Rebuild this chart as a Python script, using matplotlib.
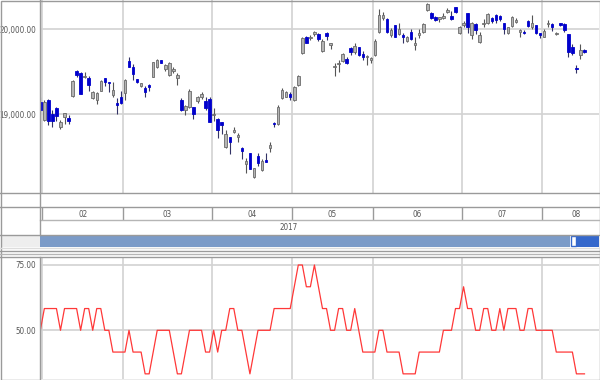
import matplotlib.pyplot as plt
from matplotlib import font_manager
from matplotlib.patches import Rectangle

# daily OHLC, 2017-01-31 .. mid Aug
opens = [19149, 18933, 19168, 19004, 19078, 18847, 18965, 18953, 19215, 19514,
         19482, 19435, 19431, 19188, 19168, 19278, 19423, 19384, 19231, 19137,
         19208, 19247, 19627, 19561, 19416, 19333, 19314, 19345, 19443, 19561,
         19639, 19533, 19463, 19514, 19423, 19168, 19051, 19082, 19082, 19161,
         19208, 19157, 19176, 18988, 18941, 18913, 18619, 18737, 18792, 18729,
         18608, 18415, 18549, 18266, 18510, 18345, 18462, 18608, 18902, 18886,
         19188, 19208, 19239, 19168, 19345, 19717, 19914, 19894, 19941, 19941,
         19749, 19953, 19816, 19553, 19592, 19631, 19647, 19776, 19737, 19796,
         19706, 19670, 19639, 19698, 19972, 20129, 20118, 19933, 20051, 19945,
         19933, 19867, 19972, 19816, 19933, 19965, 20227, 20188, 20149, 20118,
         20129, 20208, 20157, 20259, 19953, 20047, 20188, 19933, 20059, 19855,
         20063, 20071, 20129, 20169, 20157, 20078, 19961, 20039, 20090, 19972,
         19972, 20102, 20023, 20051, 19953, 19914, 20059, 20063, 19945, 20071,
         20063, 19941, 19796, 19549, 19698, 19757]
highs = [19200, 19168, 19176, 19051, 19082, 18933, 19019, 18992, 19404, 19521,
         19502, 19502, 19451, 19278, 19266, 19404, 19423, 19384, 19384, 19188,
         19278, 19412, 19670, 19592, 19416, 19372, 19333, 19353, 19619, 19647,
         19639, 19592, 19619, 19561, 19482, 19188, 19110, 19294, 19090, 19215,
         19266, 19208, 19208, 19078, 18953, 18913, 18815, 18737, 18855, 18784,
         18619, 18482, 18549, 18372, 18541, 18470, 18541, 18678, 18913, 19110,
         19306, 19278, 19267, 19333, 19467, 19914, 19921, 19933, 19984, 19953,
         19882, 19972, 19843, 19600, 19639, 19725, 19670, 19796, 19843, 19796,
         19749, 19698, 19678, 19882, 20235, 20208, 20129, 20012, 20051, 20078,
         19961, 19921, 20000, 19914, 20000, 20078, 20314, 20208, 20157, 20149,
         20188, 20247, 20220, 20267, 20039, 20102, 20196, 20090, 20071, 19972,
         20118, 20196, 20141, 20180, 20165, 20078, 20031, 20157, 20129, 20000,
         19992, 20110, 20169, 20051, 19953, 20000, 20110, 20071, 19972, 20078,
         20071, 19941, 19823, 19580, 19823, 19765]
lows = [19031, 18925, 18874, 18847, 18925, 18823, 18886, 18886, 19200, 19435,
        19239, 19423, 19278, 19176, 19121, 19278, 19333, 19266, 19208, 19004,
        19121, 19168, 19561, 19404, 19372, 19317, 19208, 19278, 19435, 19541,
        19600, 19510, 19455, 19490, 19345, 19043, 18992, 19070, 18941, 19129,
        19180, 19051, 18913, 18925, 18717, 18768, 18608, 18533, 18776, 18678,
        18470, 18313, 18353, 18247, 18392, 18337, 18435, 18560, 18855, 18874,
        19176, 19200, 19168, 19161, 19333, 19710, 19835, 19874, 19921, 19867,
        19737, 19874, 19765, 19451, 19502, 19619, 19592, 19698, 19710, 19686,
        19639, 19580, 19600, 19686, 19961, 20110, 19953, 19914, 19906, 19933,
        19843, 19855, 19874, 19757, 19894, 19953, 20220, 20118, 20102, 20090,
        20118, 20188, 20110, 20196, 19945, 20031, 19953, 19882, 19945, 19843,
        20023, 20063, 20078, 20071, 20102, 19945, 19945, 20031, 20071, 19906,
        19945, 20031, 20000, 19945, 19894, 19906, 20031, 19984, 19933, 20039,
        19972, 19670, 19698, 19490, 19651, 19725]
closes = [19051, 19149, 18925, 18925, 18980, 18913, 19012, 18921, 19392, 19463,
          19239, 19451, 19345, 19263, 19247, 19392, 19384, 19372, 19286, 19114,
          19129, 19404, 19561, 19474, 19384, 19365, 19263, 19325, 19612, 19639,
          19608, 19580, 19608, 19533, 19463, 19051, 19098, 19278, 19004, 19208,
          19235, 19070, 18913, 19004, 18815, 18874, 18764, 18678, 18815, 18757,
          18568, 18451, 18353, 18364, 18431, 18451, 18443, 18639, 18886, 19090,
          19286, 19267, 19200, 19317, 19451, 19894, 19843, 19914, 19965, 19882,
          19867, 19921, 19835, 19568, 19608, 19710, 19608, 19737, 19804, 19698,
          19678, 19686, 19659, 19867, 20169, 20169, 19972, 19992, 19914, 20000,
          19914, 19906, 19882, 19835, 19953, 20063, 20298, 20137, 20110, 20141,
          20157, 20227, 20118, 20208, 20031, 20071, 20031, 20078, 19992, 19933,
          20078, 20180, 20102, 20110, 20118, 20000, 20023, 20141, 20110, 19992,
          19953, 20039, 20071, 19961, 19929, 19984, 20078, 20023, 19961, 20051,
          19992, 19737, 19725, 19533, 19757, 19733]

# 12-day psychological line (%)
psy = [50, 58.33, 58.33, 58.33, 58.33, 50, 58.33, 58.33, 58.33, 58.33,
       50, 58.33, 58.33, 50, 58.33, 58.33, 50, 50, 41.67, 41.67,
       41.67, 41.67, 50, 41.67, 41.67, 41.67, 33.33, 33.33, 41.67, 50,
       50, 50, 50, 41.67, 33.33, 33.33, 41.67, 50, 50, 50,
       50, 41.67, 41.67, 50, 41.67, 50, 50, 58.33, 58.33, 50,
       50, 41.67, 33.33, 41.67, 50, 50, 50, 50, 58.33, 58.33,
       58.33, 58.33, 58.33, 66.67, 75, 75, 66.67, 66.67, 75, 66.67,
       58.33, 58.33, 50, 50, 58.33, 58.33, 50, 50, 58.33, 50,
       41.67, 41.67, 41.67, 41.67, 50, 50, 41.67, 41.67, 41.67, 41.67,
       33.33, 33.33, 33.33, 33.33, 41.67, 41.67, 41.67, 41.67, 41.67, 41.67,
       50, 50, 50, 58.33, 58.33, 66.67, 58.33, 58.33, 50, 50,
       58.33, 58.33, 50, 50, 58.33, 50, 58.33, 58.33, 58.33, 50,
       50, 58.33, 58.33, 50, 50, 50, 50, 50, 41.67, 41.67,
       41.67, 41.67, 41.67, 33.33, 33.33, 33.33]

month_labels = ['02', '03', '04', '05', '06', '07', '08']
month_start = [1, 21, 43, 63, 83, 105, 125]
year_label = '2017'

W, H = 600, 380
LINE = '#9a9a9a'
GRID = '#d2d2d2'
TXT = '#555555'

# narrow face for the axis text if one is around
fonts = font_manager.fontManager.ttflist
if any(f.name == 'Liberation Sans Narrow' for f in fonts):
    FONT = dict(family='Liberation Sans Narrow', fontsize=6.5)
elif any(f.name == 'DejaVu Sans' and f.stretch == 'condensed' for f in fonts):
    FONT = dict(family='DejaVu Sans', fontstretch='condensed', fontsize=5.8)
else:
    FONT = dict(family='DejaVu Sans', fontsize=5.0)


def px_rect(x0, y0, x1, y1):
    return [x0 / W, 1 - y1 / H, (x1 - x0) / W, (y1 - y0) / H]


fig = plt.figure(figsize=(6, 3.8), dpi=100)
fig.patch.set_facecolor('white')

n = len(closes)
xs = list(range(n))
xlim = (-0.08, 138.6)
bounds = [m - 0.5 for m in month_start]

# --- price panel
ax = fig.add_axes(px_rect(40, 0, 599, 193))
ax.set_xlim(*xlim)
ax.set_ylim(18074, 20345)
for b in bounds:
    ax.axvline(b, color=GRID, lw=1.2, zorder=0)
for v in (19000, 20000):
    ax.axhline(v, color=GRID, lw=1.2, zorder=0)

up = [c >= o for o, c in zip(opens, closes)]
wick_col = ['#555555' if u else '#333366' for u in up]
ax.vlines(xs, lows, highs, colors=wick_col, lw=0.8, zorder=2)
bottoms = [min(o, c) for o, c in zip(opens, closes)]
heights = [max(abs(c - o), 6) for o, c in zip(opens, closes)]
ax.bar(xs, heights, bottom=bottoms, width=0.62,
       color=['#b4b4b4' if u else '#0000cc' for u in up],
       edgecolor=['#6a6a6a' if u else '#0000cc' for u in up],
       linewidth=0.6, zorder=3)

ax.set_yticks([19000, 20000])
ax.set_yticklabels(['{:,.2f}'.format(v) for v in (19000, 20000)], color=TXT, **FONT)
ax.tick_params(axis='y', length=0, pad=3)
ax.set_xticks([])
for s in ax.spines.values():
    s.set_visible(False)

# --- month strip
axm = fig.add_axes(px_rect(40, 207, 599, 220))
axm.set_xlim(*xlim)
axm.set_ylim(0, 1)
axm.axis('off')
ends = month_start[1:] + [142]
for lab, s, e in zip(month_labels, month_start, ends):
    axm.text((s + e - 1) / 2, 0.45, lab, ha='center', va='center', color=TXT, **FONT)
for b in bounds:
    axm.axvline(b, color=LINE, lw=1)

# --- psychological line panel
axp = fig.add_axes(px_rect(40, 257, 599, 379))
axp.set_xlim(*xlim)
axp.set_ylim(31.36, 78.06)
for b in bounds:
    axp.axvline(b, color=GRID, lw=1.2, zorder=0)
for v in (50, 75):
    axp.axhline(v, color=GRID, lw=1.2, zorder=0)
axp.plot(xs, psy, color='#ff3838', lw=0.9, zorder=3)
axp.set_yticks([50, 75])
axp.set_yticklabels(['50.00', '75.00'], color=TXT, **FONT)
axp.tick_params(axis='y', length=0, pad=3)
axp.set_xticks([])
for s in axp.spines.values():
    s.set_visible(False)

# --- frame, separators, scrollbar
ov = fig.add_axes([0, 0, 1, 1], zorder=10)
ov.set_xlim(0, W)
ov.set_ylim(H, 0)
ov.axis('off')
ov.patch.set_alpha(0)

ov.add_patch(Rectangle((0.5, 235), 39.5, 12, facecolor='#eeeeee', edgecolor='none'))
ov.add_patch(Rectangle((40, 235), 530, 12, facecolor='#7b9bc8', edgecolor='none'))
ov.add_patch(Rectangle((576, 235), 23, 12, facecolor='#3568cc', edgecolor='none'))
ov.add_patch(Rectangle((570.5, 236), 5.5, 10, facecolor='white', edgecolor='#3568cc', lw=1))

hl = [(193, 0, 600, LINE), (207, 0, 600, LINE), (220, 40, 600, '#b5b5b5'),
      (234.5, 0, 600, LINE), (247.5, 0, 600, '#dddddd'), (250.5, 0, 600, LINE),
      (253.5, 0, 600, '#b5b5b5'), (257, 0, 600, LINE)]
for y, x0, x1, c in hl:
    ov.plot([x0, x1], [y, y], color=c, lw=1)
ov.plot([40, 40], [0, 234.5], color=LINE, lw=1)
ov.plot([40, 40], [257, 380], color=LINE, lw=1)
ov.text(289, 227.5, year_label, ha='center', va='center', color=TXT, **FONT)
ov.add_patch(Rectangle((0.5, 0.5), 599, 379, facecolor='none', edgecolor=LINE, lw=1))

fig.savefig('out.png', dpi=100)
